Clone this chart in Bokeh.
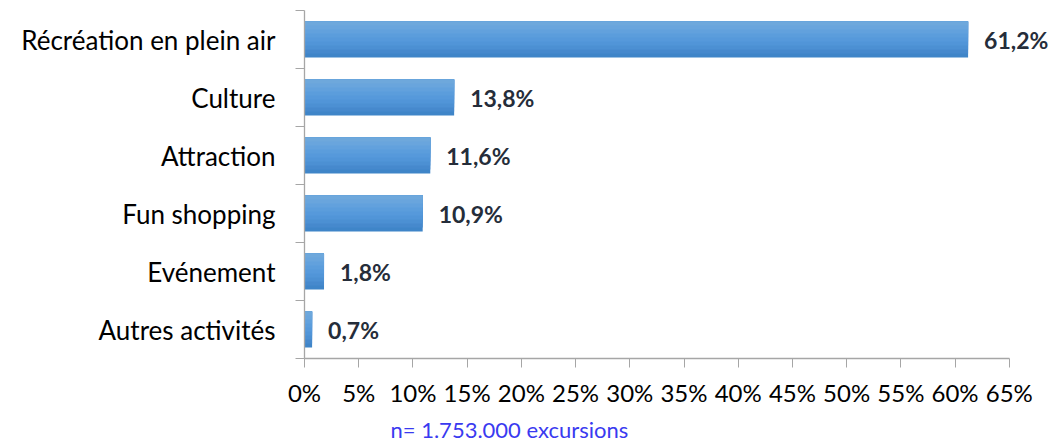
from bokeh.plotting import figure
from bokeh.models import FixedTicker, Range1d, Title, ColumnDataSource, LabelSet
from bokeh.core.properties import value
from bokeh.transform import dodge
from bokeh.embed import file_html
from bokeh.resources import INLINE

categories = ["Récréation en plein air", "Culture", "Attraction", "Fun shopping", "Evénement", "Autres activités"]
shares = [61.2, 13.8, 11.6, 10.9, 1.8, 0.7]
value_labels = ["61,2%", "13,8%", "11,6%", "10,9%", "1,8%", "0,7%"]
x_ticks = list(range(0, 66, 5))
x_tick_labels = [f"{t}%" for t in x_ticks]
caption = "n= 1.753.000 excursions"

n = len(categories)
ypos = [n - 0.5 - i for i in range(n)]

src = ColumnDataSource(dict(y=ypos, v=shares, lab=value_labels, cat=categories))

p = figure(width=1055, height=448, output_backend="svg", toolbar_location=None,
           x_range=Range1d(0, 68.8), y_range=Range1d(0, n),
           min_border_left=304, min_border_right=5, min_border_top=10, min_border_bottom=90)
p.outline_line_color = None
p.xgrid.visible = False
p.ygrid.visible = False
p.background_fill_color = "white"
p.border_fill_color = "white"

# bar with a vertical gradient (dark at bottom, light at top), drawn as stacked bands
bar_h = 0.62
band_colors = ["#3f85c8", "#4689cd", "#4c90d3", "#5195d8", "#5699db", "#5b9ddc", "#62a1dd", "#69a5dd", "#6ea8dc"]
nb = len(band_colors)
for k, col in enumerate(band_colors):
    h = bar_h * (nb - k) / nb
    off = (bar_h - h) / 2
    p.hbar(y=dodge("y", off, range=p.y_range), right="v", left=0, height=h, source=src,
           fill_color=col, line_color=None)

labels = LabelSet(x="v", y="y", text="lab", source=src, x_offset=16, text_align="left",
                  text_baseline="middle", text_font=value("Lato"), text_font_style="bold",
                  text_font_size="23px", text_color="#252d3a")
p.add_layout(labels)

# x axis
xa = p.xaxis[0]
xa.ticker = FixedTicker(ticks=x_ticks)
xa.bounds = (0, 65)
xa.major_label_overrides = {t: l for t, l in zip(x_ticks, x_tick_labels)}
xa.axis_line_color = "#a6a6a6"
xa.axis_line_width = 1.3
xa.major_tick_line_color = "#a6a6a6"
xa.major_tick_out = 9
xa.major_tick_in = 0
xa.minor_tick_line_color = None
xa.major_label_text_font = "Lato"
xa.major_label_text_font_size = "24px"
xa.major_label_text_color = "#000000"
xa.major_label_standoff = 10

# y axis
ya = p.yaxis[0]
ya.ticker = FixedTicker(ticks=ypos, minor_ticks=list(range(0, n + 1)))
ya.major_label_overrides = {y: c for y, c in zip(ypos, categories)}
ya.axis_line_color = "#a6a6a6"
ya.axis_line_width = 1.3
ya.major_tick_out = 0
ya.major_tick_in = 0
ya.major_tick_line_color = None
ya.minor_tick_line_color = "#a6a6a6"
ya.minor_tick_out = 9
ya.minor_tick_in = 0
ya.major_label_text_font = "Lato"
ya.major_label_text_font_size = "26px"
ya.major_label_text_color = "#000000"
ya.major_label_standoff = 20

t = Title(text=caption, align="left", offset=86, text_font="Lato", text_font_size="22px",
          text_font_style="normal", text_color="#3a3af0", standoff=9)
p.add_layout(t, "below")

open("out.html", "w").write(file_html(p, INLINE))
